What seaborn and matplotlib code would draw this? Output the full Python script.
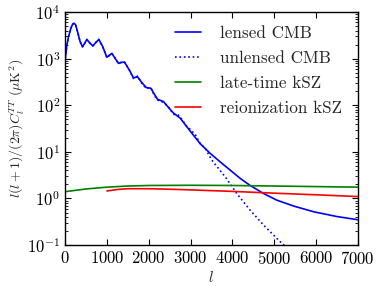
import matplotlib
matplotlib.use("Agg")
import matplotlib.pyplot as plt
import seaborn as sns

# lensed CMB spectrum
ell_lensed = [2, 40, 80, 136, 180, 215, 250, 295, 359, 415, 470, 518, 582, 662, 740, 805,
              900, 997, 1060, 1117, 1200, 1276, 1340, 1420, 1540, 1635, 1730, 1830,
              1938, 2050, 2130, 2210, 2352, 2470, 2592, 2751, 2990, 3230, 3469, 3708,
              3947, 4187, 4426, 4745, 5064, 5462, 5941, 6500, 7000]
dl_lensed = [1000, 1900, 2950, 4470, 5500, 5750, 5300, 3800, 2300, 1800, 2150, 2580, 2200,
             1870, 2250, 2580, 1800, 1070, 1180, 1300, 1000, 790, 830, 840, 560, 385, 410,
             310, 240, 232, 175, 134, 120, 90, 68, 53, 28, 15, 9.3, 6.1,
             4.06, 2.7, 1.9, 1.28, 0.92, 0.69, 0.52, 0.41, 0.35]

# unlensed CMB (only differs in the damping tail)
ell_unlensed = [2, 40, 80, 136, 180, 215, 250, 295, 359, 415, 470, 518, 582, 662, 740, 805,
                900, 997, 1060, 1117, 1200, 1276, 1340, 1420, 1540, 1635, 1730, 1830,
                1938, 2050, 2130, 2210, 2352, 2470, 2592, 2700, 2791, 2910, 3000, 3120,
                3230, 3349, 3500, 3830, 4107, 4426, 4745, 5144, 5240]
dl_unlensed = [1000, 1900, 2950, 4470, 5500, 5750, 5300, 3800, 2300, 1800, 2150, 2580, 2200,
               1870, 2250, 2580, 1800, 1070, 1180, 1300, 1000, 790, 830, 840, 560, 375, 420,
               300, 230, 240, 165, 130, 115, 92, 64, 62, 50, 35, 30, 23, 15,
               12.0, 6.8, 2.9, 1.28, 0.56, 0.27, 0.118, 0.1]

# late-time kSZ
ell_late = [0, 500, 1000, 1500, 2000, 3000, 4000, 5000, 6000, 7000]
dl_late = [1.4, 1.6, 1.75, 1.85, 1.9, 1.92, 1.9, 1.85, 1.8, 1.75]

# reionization kSZ
ell_reion = [1000, 1250, 1500, 2000, 2500, 3000, 4000, 5000, 6000, 7000]
dl_reion = [1.45, 1.56, 1.62, 1.62, 1.58, 1.53, 1.42, 1.3, 1.2, 1.1]

sns.set_style("ticks")
plt.rcParams.update({
    "font.family": "serif",
    "font.serif": ["cmr10", "DejaVu Serif"],
    "mathtext.fontset": "cm",
    "axes.formatter.use_mathtext": True,
    "axes.unicode_minus": False,
    "font.size": 11,
    "xtick.labelsize": 12,
    "ytick.labelsize": 12,
    "axes.labelsize": 10,
    "legend.fontsize": 12.3,
    "axes.linewidth": 1.0,
    "axes.edgecolor": "black",
    "xtick.direction": "in",
    "ytick.direction": "in",
    "xtick.top": True,
    "ytick.right": True,
    "xtick.color": "black",
    "ytick.color": "black",
    "xtick.major.size": 4,
    "ytick.major.size": 4,
    "ytick.minor.size": 2,
    "ytick.minor.visible": True,
})

fig = plt.figure(figsize=(3.81, 2.86), dpi=100)
ax = fig.add_axes([0.171, 0.143, 0.768, 0.815])

sns.lineplot(x=ell_lensed, y=dl_lensed, ax=ax, color="blue", lw=1.2, label="lensed CMB")
sns.lineplot(x=ell_unlensed, y=dl_unlensed, ax=ax, color="blue", lw=1.2,
             linestyle=":", label="unlensed CMB")
sns.lineplot(x=ell_late, y=dl_late, ax=ax, color="green", lw=1.2, label="late-time kSZ")
sns.lineplot(x=ell_reion, y=dl_reion, ax=ax, color="red", lw=1.2, label="reionization kSZ")

ax.set_yscale("log")
ax.set_xlim(0, 7000)
ax.set_ylim(0.1, 1e4)
ax.set_xticks(range(0, 7001, 1000))
ax.set_xlabel(r"$l$", fontsize=11, labelpad=2)
ax.set_ylabel(r"$l(l+1)/(2\pi)C_l^{TT}\ (\mu{\rm K}^2)$")
ax.yaxis.set_label_coords(-0.135, 0.5)
ax.legend(loc="upper right", bbox_to_anchor=(0.945, 0.94), frameon=False,
          borderpad=0, borderaxespad=0, handlelength=1.5, handletextpad=1.1,
          labelspacing=0.57)

fig.savefig("out.png", dpi=100)
